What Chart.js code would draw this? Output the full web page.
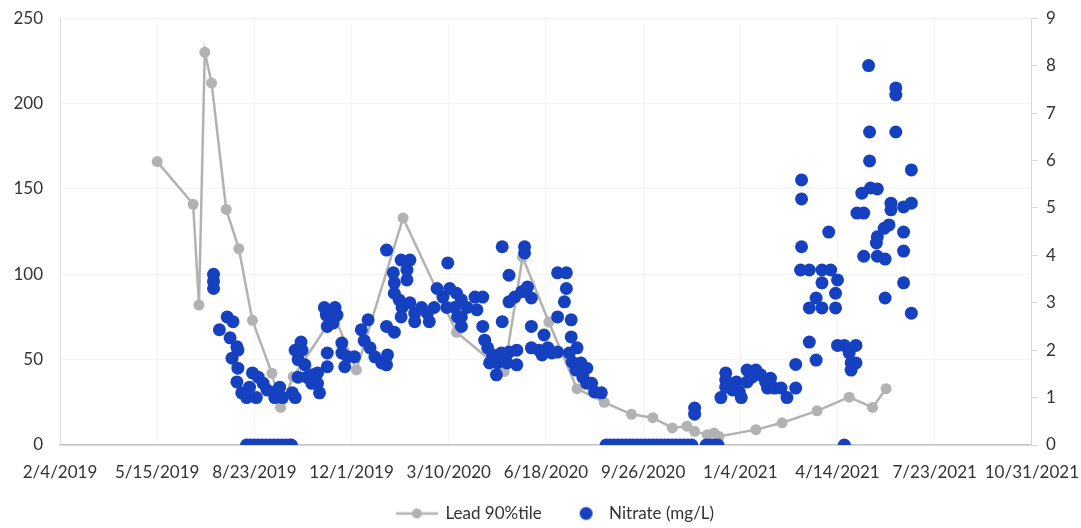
<!DOCTYPE html>
<html>
<head>
<meta charset="utf-8">
<script src="https://cdn.jsdelivr.net/npm/chart.js@4.4.1/dist/chart.umd.min.js"></script>
<style>
  html, body { margin: 0; padding: 0; background: #fff; }
  #wrap { width: 1081px; height: 528px; }
</style>
</head>
<body>
<div id="wrap"><canvas id="myChart" width="1081" height="528"></canvas></div>
<script>
// x values are days counted from 2/4/2019 (the first axis label)
var baseDate = Date.UTC(2019, 1, 4);
var xTicks = [0, 100, 200, 300, 400, 500, 600, 700, 800, 900, 1000];
var leftTicks = [0, 50, 100, 150, 200, 250];
var rightTicks = [0, 1, 2, 3, 4, 5, 6, 7, 8, 9];

var leadDays = [100, 137, 143, 149, 156, 171, 184, 198, 218, 227, 240, 282, 305, 353, 408,
    457, 476, 503, 532, 560, 588, 610, 630, 645, 653, 666, 673, 678, 716, 743, 779, 812, 836, 850];
var leadValues = [166, 141, 82, 230, 212, 138, 115, 73, 42, 22, 40, 76, 44, 133, 66,
    43, 110, 72, 33, 25, 18, 16, 10, 11, 8, 6, 7, 5, 9, 13, 20, 28, 22, 33];

var nitrateDays = [
    158, 158, 158, 164, 172, 175, 177, 178, 182, 182, 183, 183, 187, 192,
    195, 198, 202, 204, 209, 213, 221, 221, 226, 229, 239, 242, 242, 245,
    245, 248, 249, 252, 254, 259, 260, 265, 265, 267,
    192, 196, 200, 204, 208, 212, 216, 220, 224, 228, 232, 236, 238,
    272, 274, 275, 275, 275, 281, 283, 285, 290, 290, 293, 296, 303,
    310, 313, 317, 319, 324, 331, 336, 336, 336, 337, 343, 344, 344,
    344, 349, 351, 351, 352, 357, 357, 360, 360, 365, 365, 372, 378,
    380, 385, 388, 394, 398, 399, 401, 406, 408, 409, 413,
    413, 413, 419, 427, 429, 435, 435, 437, 440, 442, 445, 449, 450, 454,
    455, 455, 460, 462, 462, 462, 468, 470, 470, 475, 478, 478, 481, 485,
    485, 485, 493, 496, 498, 502, 506, 512, 512, 512, 519, 521, 521, 524,
    526, 526, 527, 531, 532, 536, 538, 542, 542, 547, 550, 557,
    562, 566, 570, 574, 578, 582, 586, 590, 594, 598, 602, 606,
    610, 614, 618, 622, 626, 630, 634, 638, 642, 646, 650,
    665, 669, 673, 677, 653, 653,
    680, 685, 685, 685, 692, 696, 699, 701, 707, 707, 712,
    716, 721, 726, 728, 731, 735, 742, 748, 757, 757,
    762, 763, 763, 763, 771, 771, 771, 778, 778, 784, 784, 784,
    791, 793, 798, 798, 800, 800, 807, 807, 812, 814, 814, 819,
    819, 820, 825, 827, 827, 832, 833, 833, 834, 840, 841, 841,
    841, 848, 849, 849, 853, 855, 855, 860, 860, 860, 868, 868,
    868, 868, 876, 876, 876
];
var nitrateValues = [
    3.6, 3.45, 3.3, 2.43, 2.7, 2.26, 1.83, 2.6, 2.07, 1.33, 2.0, 1.62, 1.1, 1.0,
    1.22, 1.52, 1.0, 1.43, 1.3, 1.16, 1.12, 1.0, 1.22, 1.0, 1.1, 1.0, 2.0, 1.8,
    1.43, 2.17, 2.0, 1.69, 1.43, 1.3, 1.48, 1.3, 1.52, 1.1,
    0, 0, 0, 0, 0, 0, 0, 0, 0, 0, 0, 0, 0,
    2.9, 2.74, 2.5, 1.94, 1.65, 2.57, 2.9, 2.74, 2.15, 1.94, 1.65, 1.86, 1.86,
    2.43, 2.2, 2.64, 2.05, 1.86, 1.73, 4.11, 2.5, 1.69, 1.9, 3.63, 3.42, 3.2,
    2.38, 3.06, 3.9, 2.7, 2.9, 3.69, 3.48, 3.9, 3.0, 2.78, 2.6, 2.9, 2.78,
    2.6, 2.9, 3.3, 3.12, 2.9, 3.84, 3.3, 2.9, 3.2, 2.7, 2.5,
    3.06, 2.7, 2.9, 3.12, 2.85, 3.12, 2.5, 2.21, 2.05, 1.73, 1.9, 1.48, 1.73, 1.94,
    4.18, 2.6, 1.73, 3.58, 3.02, 1.96, 3.12, 2.0, 1.69, 3.23, 4.18, 4.05, 3.33, 3.1,
    2.5, 2.05, 2.0, 1.9, 2.32, 2.05, 1.94, 3.63, 2.7, 1.96, 3.02, 3.63, 3.3, 1.94,
    2.64, 2.28, 1.75, 1.58, 2.05, 1.73, 1.43, 1.62, 1.3, 1.3, 1.12, 1.1,
    0, 0, 0, 0, 0, 0, 0, 0, 0, 0, 0, 0,
    0, 0, 0, 0, 0, 0, 0, 0, 0, 0, 0,
    0, 0, 0, 0, 0.78, 0.65,
    1.0, 1.52, 1.37, 1.22, 1.16, 1.33, 1.12, 1.0, 1.58, 1.33, 1.43,
    1.58, 1.48, 1.33, 1.2, 1.41, 1.2, 1.2, 1.0, 1.2, 1.7,
    3.69, 5.59, 5.19, 4.18, 3.69, 2.89, 2.17, 3.1, 1.79, 3.69, 3.42, 2.89,
    4.49, 3.69, 3.2, 2.89, 3.48, 2.1, 2.1, 0, 1.94, 1.73, 1.58, 2.1,
    1.73, 4.89, 5.31, 4.89, 3.98, 8.0, 6.6, 5.99, 5.42, 4.26, 5.4, 4.39,
    3.98, 4.57, 3.92, 3.1, 4.64, 5.1, 4.96, 7.53, 7.38, 6.6, 5.02, 4.49,
    4.09, 3.42, 5.8, 5.1, 2.78
];

var leadColor = '#b2b2b2';
var nitrateColor = '#1541c0';
var textColor = '#333333';

function dayLabel(v) {
    var d = new Date(baseDate + v * 86400000);
    return (d.getUTCMonth() + 1) + '/' + d.getUTCDate() + '/' + d.getUTCFullYear();
}

function toPoints(xs, ys) {
    var pts = [];
    for (var i = 0; i < xs.length; i++) {
        pts.push({ x: xs[i], y: ys[i] });
    }
    return pts;
}

// little pictures for the legend (line with marker, and a single dot)
function legendIcon(withLine) {
    var c = document.createElement('canvas');
    c.width = 44;
    c.height = 16;
    var g = c.getContext('2d');
    if (withLine) {
        g.strokeStyle = leadColor;
        g.lineWidth = 2.5;
        g.beginPath();
        g.moveTo(1, 8);
        g.lineTo(43, 8);
        g.stroke();
        g.fillStyle = leadColor;
        g.beginPath();
        g.arc(22, 8, 5, 0, Math.PI * 2);
        g.fill();
    } else {
        g.fillStyle = nitrateColor;
        g.beginPath();
        g.arc(27.5, 8, 6.5, 0, Math.PI * 2);
        g.fill();
    }
    return c;
}

// nudge the legend a bit right and down, like the original
var legendNudge = {
    id: 'legendNudge',
    afterLayout: function (chart) {
        var lg = chart.legend;
        lg.left += 15; lg.right += 15;
        lg.top += 4; lg.bottom += 4;
    }
};

var ctx = document.getElementById('myChart').getContext('2d');
var myChart = new Chart(ctx, {
    type: 'scatter',
    plugins: [legendNudge],
    data: {
        datasets: [{
            label: 'Lead 90%tile',
            data: toPoints(leadDays, leadValues),
            showLine: true,
            borderColor: leadColor,
            backgroundColor: leadColor,
            borderWidth: 2.5,
            pointRadius: 5.5,
            pointBorderWidth: 0,
            yAxisID: 'y',
            order: 2
        }, {
            label: 'Nitrate (mg/L)',
            data: toPoints(nitrateDays, nitrateValues),
            borderColor: nitrateColor,
            backgroundColor: nitrateColor,
            pointRadius: 6.5,
            pointBorderWidth: 0,
            yAxisID: 'y1',
            order: 1
        }]
    },
    options: {
        responsive: false,
        animation: false,
        devicePixelRatio: 1,
        layout: { padding: { top: 18, left: 0, right: 0, bottom: 0 } },
        plugins: {
            tooltip: { enabled: false },
            legend: {
                position: 'bottom',
                labels: {
                    usePointStyle: true,
                    pointStyleWidth: 40,
                    padding: 19,
                    color: textColor,
                    font: { family: 'Lato', size: 17 },
                    generateLabels: function (chart) {
                        return [
                            { text: 'Lead 90%tile', pointStyle: legendIcon(true), fontColor: textColor, datasetIndex: 0, lineWidth: 0 },
                            { text: 'Nitrate (mg/L)', pointStyle: legendIcon(false), fontColor: textColor, datasetIndex: 1, lineWidth: 0 }
                        ];
                    }
                }
            }
        },
        scales: {
            x: {
                type: 'linear',
                min: xTicks[0],
                max: xTicks[xTicks.length - 1],
                afterBuildTicks: function (scale) {
                    scale.ticks = xTicks.map(function (v) { return { value: v }; });
                },
                afterFit: function (scale) { scale.height = 37; },
                grid: { color: '#f5f5f5', tickLength: 15, tickColor: 'rgba(0,0,0,0)' },
                border: { color: '#c4c4c4', width: 1.5 },
                ticks: {
                    autoSkip: false,
                    maxRotation: 0,
                    padding: 2,
                    color: textColor,
                    font: { family: 'Lato', size: 17 },
                    callback: function (v) { return dayLabel(v); }
                }
            },
            y: {
                position: 'left',
                min: leftTicks[0],
                max: leftTicks[leftTicks.length - 1],
                afterBuildTicks: function (scale) {
                    scale.ticks = leftTicks.map(function (v) { return { value: v }; });
                },
                afterFit: function (scale) { scale.width = 60; },
                grid: { color: '#f4f4f4', tickLength: 15, tickColor: 'rgba(0,0,0,0)' },
                border: { color: '#dddddd' },
                ticks: { padding: 2, color: textColor, font: { family: 'Lato', size: 17 } }
            },
            y1: {
                position: 'right',
                min: rightTicks[0],
                max: rightTicks[rightTicks.length - 1],
                afterBuildTicks: function (scale) {
                    scale.ticks = rightTicks.map(function (v) { return { value: v }; });
                },
                afterFit: function (scale) { scale.width = 48; },
                grid: { drawOnChartArea: false, color: '#d9d9d9', tickLength: 6 },
                border: { color: '#d9d9d9' },
                ticks: { padding: 8, color: textColor, font: { family: 'Lato', size: 17 } }
            }
        }
    }
});
</script>
</body>
</html>
